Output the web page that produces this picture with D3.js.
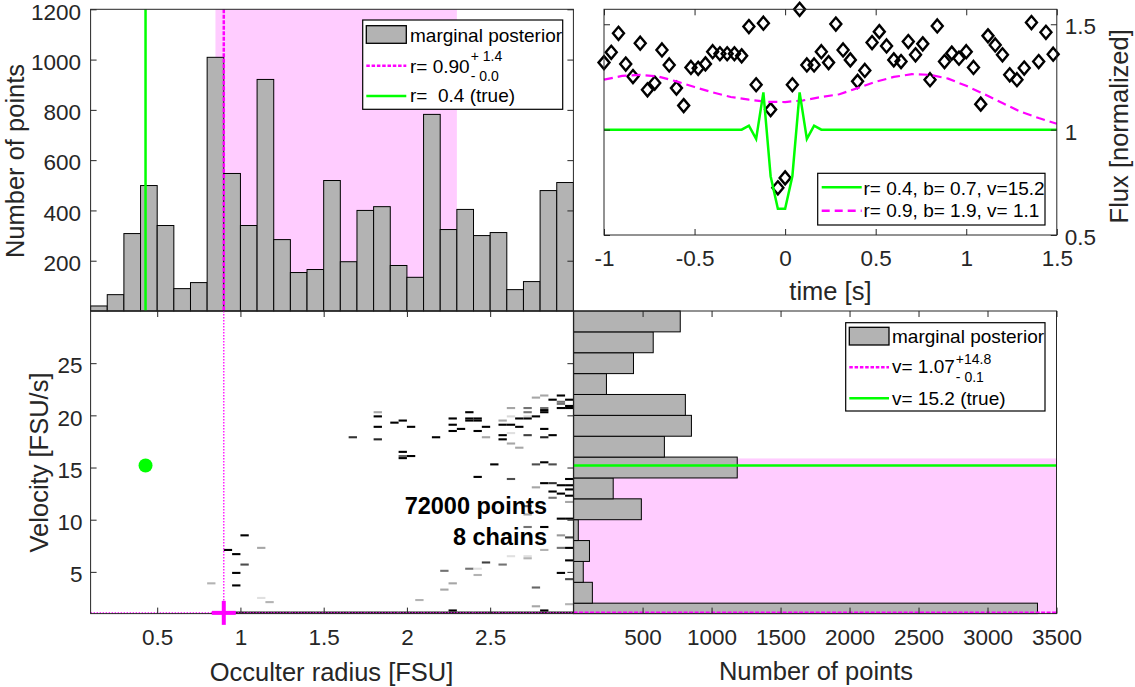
<!DOCTYPE html>
<html><head><meta charset="utf-8">
<script src="https://cdn.jsdelivr.net/npm/d3@7"></script>
<style>body{margin:0;background:#fff}svg{display:block}</style>
</head><body><svg id="c" width="1135" height="687"></svg>
<script>
// ---------------- DATA ----------------
const rEdges = [0.1,0.2,0.3,0.4,0.5,0.6,0.7,0.8,0.9,1.0,1.1,1.2,1.3,1.4,1.5,1.6,1.7,1.8,1.9,2.0,2.1,2.2,2.3,2.4,2.5,2.6,2.7,2.8,2.9,3.0];
const rCounts = [20,65,308,499,340,89,113,1009,547,340,921,284,153,165,519,196,400,415,181,134,782,324,404,300,312,85,117,479,511];
const vEdges = [1,2,4,6,8,10,12,14,16,18,20,22,24,26,28,30];
const vCounts = [3362,136,70,115,34,491,287,1186,658,854,810,238,434,577,773];

const rMAP = 0.90, rLow = 0.85, rHigh = 2.30, rTrue = 0.43;
const vMAP = 1.07, vLow = 0.97, vHigh = 15.87, vTrue = 15.2;

// 2-D posterior density cells: [radius bin start, velocity bin centre, density 0..1]
const cells = [
 [1.65,17.9,0.8],
 [1.80,20.3,0.35],[1.80,19.9,1],[1.80,18.9,1],[1.80,17.7,0.85],
 [1.90,19.3,1],
 [1.95,19.5,1],[1.95,16.5,1],[1.95,16.1,0.6],[1.95,15.9,1],
 [2.00,18.9,1],[2.00,16.1,1],
 [2.15,17.9,1],
 [2.25,19.7,1],[2.25,19.1,1],[2.25,18.5,1],
 [2.30,18.7,1],
 [2.35,20.3,1],[2.35,19.7,1],[2.35,19.5,1],
 [2.40,19.7,1],[2.40,19.5,1],[2.40,18.5,1],[2.40,14.1,1],
 [2.45,18.9,1],[2.45,17.9,0.35],
 [2.50,15.3,1],
 [2.55,19.5,0.35],[2.55,19.1,1],[2.55,18.1,1],[2.55,17.7,1],
 [2.60,20.7,0.35],[2.60,19.9,0.15],[2.60,19.1,1],[2.60,18.3,0.12],[2.60,17.3,0.35],[2.60,13.9,0.7],
 [2.65,19.7,1],[2.65,18.9,1],[2.65,16.9,0.35],
 [2.70,20.7,0.55],[2.70,20.3,0.55],[2.70,19.9,0.15],[2.70,19.7,1],[2.70,18.1,0.75],
 [2.75,21.7,0.35],[2.75,19.9,1],[2.75,15.3,0.7],[2.75,13.1,0.35],
 [2.80,21.9,0.35],[2.80,20.7,0.55],[2.80,20.5,1],[2.80,20.3,1],[2.80,18.7,1],[2.80,17.9,0.85],[2.80,15.5,1],[2.80,13.5,1],
 [2.85,21.5,1],[2.85,18.1,1],[2.85,15.3,0.7],[2.85,13.5,0.8],[2.85,12.7,1],[2.85,12.1,0.55],
 [2.90,21.9,1],[2.90,21.3,0.55],[2.90,21.1,0.55],[2.90,20.7,1],[2.90,13.3,1],[2.90,12.5,1],
 [2.95,21.5,1],[2.95,20.9,1],[2.95,20.7,1],[2.95,13.9,1],[2.95,13.3,1],[2.95,12.9,1],[2.95,12.3,1],[2.95,11.7,0.35],
 [2.70,11.3,0.55],[2.90,10.1,1],[2.95,10.1,1],[2.70,10.5,0.35],
 [2.80,9.3,1],[2.70,9.3,0.55],[2.90,8.5,0.4],[2.95,8.3,0.75],
 [2.80,7.1,0.3],[2.90,7.3,0.55],[2.95,7.3,1],
 [2.60,6.5,0.12],[2.70,6.5,0.12],[2.70,6.3,0.3],
 [2.45,5.9,0.75],[2.55,5.7,0.55],[2.95,6.1,1],
 [2.35,5.3,0.55],[2.40,5.3,0.12],[2.40,4.7,0.3],[2.20,5.1,0.55],
 [2.90,4.9,1],[2.95,4.3,0.7],
 [2.20,3.3,0.35],[2.25,3.9,0.35],[2.75,3.5,0.6],
 [2.05,2.3,0.3],[2.75,1.7,0.35],[2.95,1.9,0.3],
 [0.80,3.9,0.3],
 [0.90,7.1,1],[0.95,6.7,1],[1.00,8.5,1],[0.95,4.9,1],[1.00,5.7,0.7],[0.95,3.7,1],
 [1.10,7.3,0.35],[1.10,2.5,0.12],[1.15,2.1,0.3],
 [2.25,1.3,1],[2.80,1.3,1],
 [0.95,1.1,0.9],[1.00,1.1,0.9],[1.05,1.1,0.9],[1.10,1.1,0.9],[1.15,1.1,0.9],[1.20,1.1,0.9],[1.25,1.1,0.9],
 [1.30,1.1,0.9],[1.35,1.1,0.9],[1.40,1.1,0.9],[1.45,1.1,0.9],[1.50,1.1,0.9],[1.55,1.1,0.9],[1.60,1.1,0.9],
 [1.65,1.1,0.9],[1.70,1.1,0.9],[1.75,1.1,0.9],[1.80,1.1,0.9],[1.85,1.1,0.9],[1.90,1.1,0.9],[1.95,1.1,0.9],
 [2.00,1.1,0.9],[2.05,1.1,0.9],[2.10,1.1,0.9],[2.15,1.1,0.9],[2.20,1.1,0.9],[2.25,1.1,0.9],[2.30,1.1,0.9],
 [2.35,1.1,0.9],[2.40,1.1,0.9],[2.45,1.1,0.9],[2.50,1.1,0.9],[2.55,1.1,0.9],[2.60,1.1,0.9],[2.65,1.1,0.9],
 [2.70,1.1,0.9],[2.75,1.1,0.9],[2.80,1.1,0.9],[2.85,1.1,0.9],[2.90,1.1,0.9],[2.95,1.1,0.9]
];

// light curve
const timeObs = [-1.00,-0.96,-0.92,-0.88,-0.84,-0.80,-0.76,-0.72,-0.68,-0.64,-0.60,-0.56,-0.52,-0.48,-0.44,-0.40,-0.36,-0.32,-0.28,-0.24,-0.20,-0.16,-0.12,-0.08,-0.04,0.00,0.04,0.08,0.12,0.16,0.20,0.24,0.28,0.32,0.36,0.40,0.44,0.48,0.52,0.56,0.60,0.64,0.68,0.72,0.76,0.80,0.84,0.88,0.92,0.96,1.00,1.04,1.08,1.12,1.16,1.20,1.24,1.28,1.32,1.36,1.40,1.44,1.48];
const fluxObs = [1.318,1.367,1.457,1.311,1.252,1.410,1.189,1.221,1.378,1.307,1.197,1.114,1.295,1.291,1.312,1.370,1.360,1.360,1.360,1.350,1.489,1.213,1.505,1.095,0.724,0.771,1.213,1.571,1.307,1.307,1.370,1.318,1.501,1.378,1.331,1.229,1.281,1.413,1.465,1.397,1.331,1.323,1.418,1.355,1.407,1.237,1.492,1.323,1.363,1.339,1.370,1.295,1.121,1.445,1.402,1.355,1.260,1.237,1.292,1.508,1.323,1.462,1.358];
const timeTrueModel = [-1,-0.24,-0.20,-0.16,-0.12,-0.08,-0.04,0,0.04,0.08,0.12,0.16,0.20,1.5];
const fluxTrueModel = [1,1,1.019,0.956,1.177,0.779,0.625,0.625,0.779,1.177,0.956,1.019,1,1];
const timeFitModel = [-1,-0.9,-0.8,-0.7,-0.6,-0.5,-0.4,-0.3,-0.2,-0.1,0,0.1,0.2,0.3,0.4,0.5,0.6,0.7,0.8,0.9,1.0,1.1,1.2,1.3,1.4,1.5];
const fluxFitModel = [1.237,1.255,1.260,1.252,1.229,1.202,1.177,1.155,1.142,1.132,1.131,1.139,1.155,1.168,1.197,1.227,1.250,1.263,1.260,1.242,1.208,1.168,1.126,1.085,1.055,1.028];

// ticks / labels
const countTicksTop = [200,400,600,800,1000,1200];
const radiusTicks = [0.5,1,1.5,2,2.5];
const velocityTicks = [5,10,15,20,25];
const countTicksRight = [500,1000,1500,2000,2500,3000,3500];
const timeTicks = [-1,-0.5,0,0.5,1,1.5];
const fluxTicks = [0.5,1,1.5];
const legendTop = ["marginal posterior","r= 0.90","+ 1.4","- 0.0","r=\u00a0 0.4 (true)"];
const legendRight = ["marginal posterior","v= 1.07","+14.8","- 0.1","v= 15.2 (true)"];
const legendCurve = ["r= 0.4, b= 0.7, v=15.2","r= 0.9, b= 1.9, v= 1.1"];
const annot = ["72000 points","8 chains"];

// ---------------- STYLE ----------------
const FONT = '"Liberation Sans", Arial, Helvetica, sans-serif';
const AX = "#262626", GREEN = "#00ff00", MAG = "#ff00ff", SHADE = "#ffccff", BAR = "#b3b3b3";
const TICKFS = 22.5, LABELFS = 25.5, LEGFS = 19;

const svg = d3.select("#c");
svg.append("rect").attr("width",1135).attr("height",687).attr("fill","#fff");

// scales
const xR = d3.scaleLinear([0.1,3.0],[90.6,573.4]);
const yCountTop = d3.scaleLinear([0,1200],[311,9.3]);
const yV = d3.scaleLinear([1,30],[613.6,311]);
const xCountRight = d3.scaleLinear([0,3500],[573.6,1056.5]);
const xT = d3.scaleLinear([-1,1.5],[604,1056.8]);
const yF = d3.scaleLinear([0.5,1.571],[235,9.3]);

function axis(gen, tr, labels, pad, vertical){
  const a = svg.append("g").attr("transform",tr)
    .call(gen.tickSizeInner(-6).tickSizeOuter(0).tickPadding(pad||8).tickFormat(d=>String(d)));
  a.select(".domain").remove();
  a.selectAll("line").attr("stroke",AX).attr("stroke-width",1);
  a.attr("font-family",FONT).attr("font-size",TICKFS);
  a.selectAll("text").attr("fill",AX);
  if(vertical) a.selectAll("text").attr("y",2.5);
  if(!labels) a.selectAll("text").remove();
  return a;
}
function box(x0,x1,y0,y1){
  svg.append("rect").attr("x",x0).attr("y",y1).attr("width",x1-x0).attr("height",y0-y1)
    .attr("fill","none").attr("stroke",AX).attr("stroke-width",1);
}
function label(txt,x,y,rot,anchor,opts){
  const t = svg.append("text").attr("x",x).attr("y",y).text(txt)
    .attr("font-family",FONT).attr("font-size",(opts&&opts.fs)||LABELFS)
    .attr("fill",(opts&&opts.fill)||AX).attr("text-anchor",anchor||"middle");
  if(opts&&opts.bold) t.attr("font-weight","bold");
  if(rot) t.attr("transform",`rotate(${rot},${x},${y})`);
  return t;
}
function legendBox(x0,y0,w,h){
  svg.append("rect").attr("x",x0).attr("y",y0).attr("width",w).attr("height",h)
    .attr("fill","#fff").attr("stroke","#000").attr("stroke-width",1.2);
}

// ---------------- TOP-LEFT: radius marginal ----------------
svg.append("rect").attr("x",xR(rLow)).attr("width",xR(rHigh)-xR(rLow))
  .attr("y",yCountTop(1200)).attr("height",yCountTop(0)-yCountTop(1200)).attr("fill",SHADE);
svg.append("g").selectAll("rect").data(rCounts).join("rect")
  .attr("x",(d,i)=>xR(rEdges[i])).attr("width",(d,i)=>xR(rEdges[i+1])-xR(rEdges[i]))
  .attr("y",d=>yCountTop(d)).attr("height",d=>yCountTop(0)-yCountTop(d))
  .attr("fill",BAR).attr("stroke","#000").attr("stroke-width",1);
svg.append("line").attr("x1",xR(rTrue)).attr("x2",xR(rTrue)).attr("y1",yCountTop(1200)).attr("y2",yCountTop(0))
  .attr("stroke",GREEN).attr("stroke-width",2.5);
svg.append("line").attr("x1",xR(rMAP)).attr("x2",xR(rMAP)).attr("y1",yCountTop(1200)).attr("y2",yCountTop(0))
  .attr("stroke",MAG).attr("stroke-width",2.5).attr("stroke-dasharray","4,1.5");
axis(d3.axisLeft(yCountTop).tickValues(countTicksTop),`translate(${xR.range()[0]},0)`,true,9.5,true);
axis(d3.axisRight(yCountTop).tickValues(countTicksTop),`translate(${xR.range()[1]},0)`,false);
box(xR.range()[0],xR.range()[1],yCountTop(0),yCountTop(1200));
label("Number of points",23.5,161,-90);

legendBox(362.7,20,200,89.3);
svg.append("rect").attr("x",366.3).attr("y",25.7).attr("width",40).attr("height",17.6)
  .attr("fill",BAR).attr("stroke","#000").attr("stroke-width",1.3);
label(legendTop[0],410,41.5,0,"start",{fs:LEGFS,fill:"#000"});
svg.append("line").attr("x1",366.3).attr("x2",406.3).attr("y1",65.7).attr("y2",65.7)
  .attr("stroke",MAG).attr("stroke-width",2.5).attr("stroke-dasharray","3.5,1.8");
{
  const t = label(legendTop[1],410,73.3,0,"start",{fs:LEGFS,fill:"#000"});
  const xe = 410 + t.node().getComputedTextLength() + 1;
  label(legendTop[2],xe,61,0,"start",{fs:14,fill:"#000"});
  label(legendTop[3],xe,80.5,0,"start",{fs:14,fill:"#000"});
}
svg.append("line").attr("x1",366.3).attr("x2",406.3).attr("y1",96).attr("y2",96)
  .attr("stroke",GREEN).attr("stroke-width",2.5);
label(legendTop[4],410,102.3,0,"start",{fs:LEGFS,fill:"#000"});

// ---------------- BOTTOM-LEFT: joint posterior ----------------
const shade = d3.scaleLinear([0,1],["#ffffff","#000000"]);
const cw = 0.05, ch = 0.2;
svg.append("g").selectAll("rect").data(cells).join("rect")
  .attr("x",d=>xR(d[0])).attr("width",d=>xR(d[0]+cw)-xR(d[0]))
  .attr("y",d=>yV(Math.min(d[1]+ch/2,30))).attr("height",d=>yV(Math.max(d[1]-ch/2,1))-yV(Math.min(d[1]+ch/2,30)))
  .attr("fill",d=>shade(d[2]));
svg.append("circle").attr("cx",xR(rTrue)).attr("cy",yV(vTrue)).attr("r",7).attr("fill",GREEN);
svg.append("line").attr("x1",xR(rMAP)).attr("x2",xR(rMAP)).attr("y1",yV(30)).attr("y2",yV(1))
  .attr("stroke",MAG).attr("stroke-width",1.3).attr("stroke-dasharray","1.5,1.5");
svg.append("line").attr("x1",xR.range()[0]).attr("x2",xR.range()[1]).attr("y1",yV(vMAP)).attr("y2",yV(vMAP))
  .attr("stroke",MAG).attr("stroke-width",1.3).attr("stroke-dasharray","1.5,1.5");
label(annot[0],547,513.5,0,"end",{fs:23.5,bold:true,fill:"#000"});
label(annot[1],547,545,0,"end",{fs:23.5,bold:true,fill:"#000"});
axis(d3.axisLeft(yV).tickValues(velocityTicks),`translate(${xR.range()[0]},0)`,true,8,true);
axis(d3.axisRight(yV).tickValues(velocityTicks),`translate(${xR.range()[1]},0)`,false);
axis(d3.axisBottom(xR).tickValues(radiusTicks),`translate(0,${yV(1)})`,true,15);
axis(d3.axisTop(xR).tickValues(radiusTicks),`translate(0,${yV(30)})`,false);
box(xR.range()[0],xR.range()[1],yV(1),yV(30));
{
  const px = xR(rMAP), py = yV(vMAP);
  svg.append("line").attr("x1",px-12).attr("x2",px+12).attr("y1",py).attr("y2",py).attr("stroke",MAG).attr("stroke-width",4);
  svg.append("line").attr("x1",px).attr("x2",px).attr("y1",py-12).attr("y2",py+12).attr("stroke",MAG).attr("stroke-width",4);
}
label("Velocity [FSU/s]",48,462.5,-90);
label("Occulter radius [FSU]",331.5,680.5,0);

// ---------------- BOTTOM-RIGHT: velocity marginal ----------------
svg.append("rect").attr("x",xCountRight(0)).attr("width",xCountRight(3500)-xCountRight(0))
  .attr("y",yV(vHigh)).attr("height",yV(Math.max(vLow,1))-yV(vHigh)).attr("fill",SHADE);
svg.append("g").selectAll("rect").data(vCounts).join("rect")
  .attr("x",xCountRight(0)).attr("width",d=>xCountRight(d)-xCountRight(0))
  .attr("y",(d,i)=>yV(vEdges[i+1])).attr("height",(d,i)=>yV(vEdges[i])-yV(vEdges[i+1]))
  .attr("fill",BAR).attr("stroke","#000").attr("stroke-width",1);
svg.append("line").attr("x1",xCountRight(0)).attr("x2",xCountRight(3500)).attr("y1",yV(vTrue)).attr("y2",yV(vTrue))
  .attr("stroke",GREEN).attr("stroke-width",2.5);
svg.append("line").attr("x1",xCountRight(0)).attr("x2",xCountRight(3500)).attr("y1",yV(vMAP)).attr("y2",yV(vMAP))
  .attr("stroke",MAG).attr("stroke-width",2.5).attr("stroke-dasharray","4,1.5");
axis(d3.axisBottom(xCountRight).tickValues(countTicksRight),`translate(0,${yV(1)})`,true,15);
axis(d3.axisTop(xCountRight).tickValues(countTicksRight),`translate(0,${yV(30)})`,false);
box(xCountRight(0),xCountRight(3500),yV(1),yV(30));
label("Number of points",816,680,0);

legendBox(845.7,322.7,199.3,88.3);
svg.append("rect").attr("x",849.3).attr("y",327.3).attr("width",39.7).attr("height",17.7)
  .attr("fill",BAR).attr("stroke","#000").attr("stroke-width",1.3);
label(legendRight[0],892,342.7,0,"start",{fs:LEGFS,fill:"#000"});
svg.append("line").attr("x1",849.3).attr("x2",889).attr("y1",367.3).attr("y2",367.3)
  .attr("stroke",MAG).attr("stroke-width",2.5).attr("stroke-dasharray","3.5,1.8");
{
  const t = label(legendRight[1],892,373.3,0,"start",{fs:LEGFS,fill:"#000"});
  const xe = 892 + t.node().getComputedTextLength() + 1;
  label(legendRight[2],xe,363.5,0,"start",{fs:14,fill:"#000"});
  label(legendRight[3],xe,381.7,0,"start",{fs:14,fill:"#000"});
}
svg.append("line").attr("x1",849.3).attr("x2",889).attr("y1",398.3).attr("y2",398.3)
  .attr("stroke",GREEN).attr("stroke-width",2.5);
label(legendRight[4],892,405,0,"start",{fs:LEGFS,fill:"#000"});

// ---------------- TOP-RIGHT: light curve ----------------
const diamond = "M0,-6.5L5.5,0L0,6.5L-5.5,0Z";
svg.append("g").selectAll("path").data(timeObs).join("path")
  .attr("d",diamond).attr("transform",(d,i)=>`translate(${xT(d)},${yF(fluxObs[i])})`)
  .attr("fill","none").attr("stroke","#000").attr("stroke-width",2.4);
const lineFit = d3.line().x(d=>xT(d[0])).y(d=>yF(d[1]));
svg.append("path").attr("d",lineFit(timeFitModel.map((t,i)=>[t,fluxFitModel[i]])))
  .attr("fill","none").attr("stroke",MAG).attr("stroke-width",2.2).attr("stroke-dasharray","9,5");
svg.append("path").attr("d",lineFit(timeTrueModel.map((t,i)=>[t,fluxTrueModel[i]])))
  .attr("fill","none").attr("stroke",GREEN).attr("stroke-width",2.5).attr("stroke-linejoin","miter");
axis(d3.axisBottom(xT).tickValues(timeTicks),`translate(0,${yF(0.5)})`,true,15.4);
axis(d3.axisTop(xT).tickValues(timeTicks),`translate(0,${yF(1.571)})`,false);
axis(d3.axisLeft(yF).tickValues(fluxTicks),`translate(${xT(-1)},0)`,false);
axis(d3.axisRight(yF).tickValues(fluxTicks),`translate(${xT(1.5)},0)`,true,8,true);
box(xT(-1),xT(1.5),yF(0.5),yF(1.571));
label("time [s]",830.4,300,0);
label("Flux [normalized]",1128,126.3,-90);

legendBox(817.7,173.3,227.3,51.7);
svg.append("line").attr("x1",821.7).attr("x2",861.7).attr("y1",187.3).attr("y2",187.3)
  .attr("stroke",GREEN).attr("stroke-width",2.5);
label(legendCurve[0],863.5,195,0,"start",{fs:LEGFS,fill:"#000"});
svg.append("line").attr("x1",821.7).attr("x2",861.7).attr("y1",210.7).attr("y2",210.7)
  .attr("stroke",MAG).attr("stroke-width",2.5).attr("stroke-dasharray","8,5");
label(legendCurve[1],863.5,216.5,0,"start",{fs:LEGFS,fill:"#000"});
</script></body></html>
